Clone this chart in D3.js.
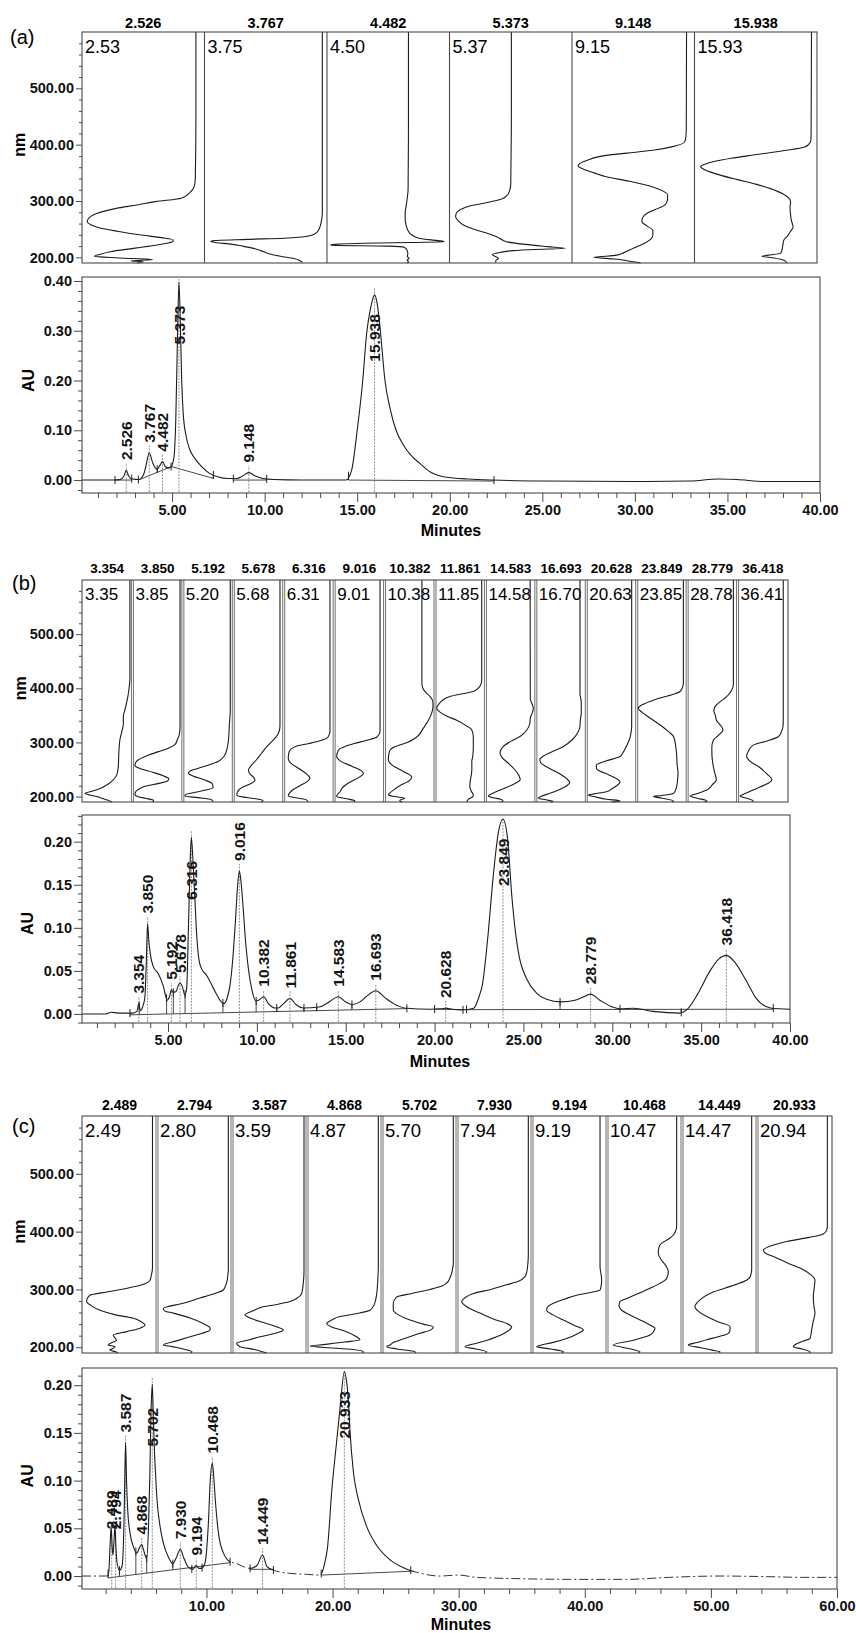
<!DOCTYPE html>
<html>
<head>
<meta charset="utf-8">
<script src="https://cdn.jsdelivr.net/npm/d3@7"></script>
<style>
body { margin: 0; background: #fff; }
svg { display: block; font-family: "Liberation Sans", Arial, sans-serif; }
</style>
</head>
<body>
<svg id="fig" width="856" height="1633"></svg>
<script>
// ---------- panel (a) ----------
var aHeads = ["2.526", "3.767", "4.482", "5.373", "9.148", "15.938"];
var aTags = ["2.53", "3.75", "4.50", "5.37", "9.15", "15.93"];
// spectra: [nm, relative absorbance position across the cell]
var aSpectra = [
  [[600,.93],[450,.93],[340,.925],[325,.915],[315,.88],[305,.81],[299,.6],[293,.45],[287,.28],[278,.12],[268,.05],[263,.043],[257,.08],[252,.147],[246,.3],[240,.47],[235,.65],[231,.745],[228,.74],[225,.69],[220,.55],[216,.42],[210,.23],[205,.14],[202,.1],[199,.3],[196,.58],[194,.4],[192,.5],[190,.45]],
  [[600,.962],[450,.962],[300,.962],[280,.962],[265,.955],[250,.935],[243,.91],[238,.85],[234,.65],[232,.35],[230,.08],[228,.05],[226,.1],[224,.2],[220,.31],[216,.4],[212,.46],[207,.52],[202,.62],[198,.73],[194,.78],[191,.8]],
  [[600,.665],[450,.665],[320,.662],[305,.655],[290,.645],[278,.638],[268,.638],[258,.645],[248,.66],[240,.69],[234,.75],[231,.85],[229,.94],[227.5,.955],[226.5,.7],[225,.3],[223,.03],[221.5,.04],[220,.5],[218,.63],[212,.655],[206,.66],[202,.655],[198,.67],[195,.655],[192,.665],[190,.655]],
  [[600,.505],[450,.505],[330,.5],[318,.49],[310,.47],[303,.42],[297,.3],[292,.18],[285,.09],[278,.055],[272,.05],[265,.07],[257,.117],[250,.2],[242,.32],[236,.39],[230,.44],[227,.48],[223,.62],[219,.8],[216,.943],[214,.7],[212,.52],[209,.42],[205,.35],[202,.37],[198,.4],[195,.38],[191,.376]],
  [[600,.935],[430,.933],[415,.93],[405,.92],[397,.83],[390,.66],[385,.45],[381,.28],[372,.12],[366,.06],[362,.05],[356,.1],[350,.18],[343,.28],[335,.47],[325,.66],[318,.74],[311,.78],[303,.78],[293,.76],[285,.68],[278,.61],[270,.575],[263,.57],[256,.61],[248,.66],[240,.66],[234,.65],[226,.6],[216,.5],[208,.42],[204,.365],[201,.22],[200,.175],[197,.35],[194,.45],[190,.56]],
  [[600,.955],[420,.952],[408,.95],[400,.93],[396,.9],[390,.75],[382,.49],[376,.3],[370,.158],[365,.08],[361,.05],[356,.08],[350,.15],[346,.21],[338,.35],[330,.5],[322,.62],[313,.72],[305,.77],[298,.785],[290,.78],[278,.783],[266,.79],[254,.805],[245,.78],[238,.76],[231,.73],[220,.72],[210,.71],[207,.7],[204,.6],[202,.55],[199,.65],[195,.73],[190,.755]]
];
// chromatogram: [minutes, AU]
var aTrace = [[0.14,0],[1.9,0],[2.2,0.001],[2.4,0.008],[2.526,0.02],[2.65,0.008],[2.85,0.002],[3.2,0.001],[3.45,0.01],[3.6,0.03],[3.767,0.055],[3.95,0.035],[4.1,0.024],[4.2,0.022],[4.35,0.03],[4.482,0.037],[4.62,0.028],[4.8,0.024],[4.95,0.027],[5.1,0.045],[5.2,0.12],[5.3,0.3],[5.373,0.398],[5.45,0.31],[5.52,0.2],[5.6,0.135],[5.75,0.09],[5.95,0.062],[6.2,0.045],[6.6,0.027],[7.0,0.014],[7.5,0.006],[8.0,0.003],[8.5,0.003],[8.8,0.008],[9.148,0.015],[9.5,0.008],[9.9,0.003],[10.5,0.001],[12,0],[14.4,0],[14.7,0.02],[15.0,0.1],[15.3,0.2],[15.5,0.29],[15.75,0.35],[15.938,0.372],[16.1,0.35],[16.25,0.3],[16.5,0.2],[16.8,0.14],[17.1,0.1],[17.5,0.07],[17.9,0.05],[18.4,0.033],[19.0,0.015],[19.5,0.008],[20.2,0.004],[21.0,0.002],[22.3,0],[25,-0.002],[30,-0.003],[33,-0.002],[34.5,0.002],[35.5,0.001],[37,-0.003],[40,-0.003]];
var aPeaks = [2.526, 3.767, 4.482, 5.373, 9.148, 15.938];
var aBase = [[1.92,0,2.82,0],[3.18,0,4.95,0.027],[4.98,0.027,7.23,0.0034],[8.31,0,10.11,0],[14.53,0,22.39,-0.002]];
var aCuts = [1.92, 2.82, 3.18, 4.2, 4.95, 7.23, 8.31, 10.11, 14.53, 22.39];

// ---------- panel (b) ----------
var bHeads = ["3.354","3.850","5.192","5.678","6.316","9.016","10.382","11.861","14.583","16.693","20.628","23.849","28.779","36.418"];
var bTags = ["3.35","3.85","5.20","5.68","6.31","9.01","10.38","11.85","14.58","16.70","20.63","23.85","28.78","36.41"];
var bSpectra = [
  [[600,.95],[420,.95],[397,.93],[380,.9],[360,.85],[348,.82],[335,.82],[320,.79],[304,.75],[280,.73],[255,.72],[240,.69],[231,.62],[222,.5],[215,.36],[210,.2],[206,.06],[203,.15],[200,.29],[196,.42],[192,.55],[190,.6]],
  [[600,.944],[330,.944],[315,.93],[305,.89],[297,.85],[289,.7],[283,.52],[276,.3],[268,.12],[262,.06],[257,.05],[252,.15],[245,.4],[238,.62],[233,.72],[229,.7],[224,.5],[219,.25],[215,.15],[210,.07],[204,.05],[200,.1],[197,.25],[193,.42],[190,.4]],
  [[600,.94],[360,.94],[330,.92],[310,.91],[290,.88],[275,.82],[265,.7],[258,.5],[252,.3],[247,.14],[243,.11],[238,.2],[231,.42],[224,.58],[217,.6],[212,.45],[208,.25],[204,.06],[201,.04],[198,.3],[195,.55],[191,.6]],
  [[600,.926],[330,.926],[318,.9],[305,.8],[292,.66],[280,.56],[268,.46],[258,.36],[249,.3],[242,.33],[236,.4],[230,.43],[224,.35],[218,.2],[214,.13],[208,.08],[203,.07],[199,.2],[196,.45],[193,.59],[190,.55]],
  [[600,.917],[320,.917],[310,.88],[303,.72],[298,.5],[293,.25],[288,.15],[280,.1],[270,.09],[262,.14],[252,.3],[242,.45],[234,.52],[228,.47],[220,.32],[213,.19],[206,.11],[201,.09],[197,.3],[194,.45],[190,.48]],
  [[600,.91],[320,.91],[310,.85],[304,.65],[298,.4],[292,.2],[288,.11],[280,.06],[274,.05],[266,.12],[256,.35],[247,.55],[242,.58],[236,.5],[226,.3],[216,.16],[209,.117],[203,.06],[200,.05],[196,.25],[192,.41],[190,.4]],
  [[600,.74],[410,.74],[400,.76],[392,.82],[385,.9],[374,.96],[366,.96],[356,.94],[341,.87],[325,.76],[310,.64],[300,.45],[292,.2],[286,.11],[276,.08],[268,.075],[258,.15],[246,.38],[236,.54],[230,.5],[220,.3],[212,.175],[206,.1],[203,.075],[200,.2],[197,.4],[193,.3],[190,.35]],
  [[600,.926],[415,.926],[405,.9],[398,.83],[394,.76],[390,.55],[385,.3],[378,.15],[370,.07],[363,.033],[356,.1],[348,.25],[341,.43],[332,.6],[323,.73],[310,.76],[292,.76],[275,.75],[265,.73],[250,.73],[240,.72],[230,.7],[218,.69],[210,.72],[203,.76],[200,.75],[195,.66],[190,.63]],
  [[600,.887],[380,.89],[370,.93],[363,.95],[355,.93],[345,.89],[335,.88],[323,.82],[312,.7],[302,.5],[292,.35],[285,.3],[280,.29],[272,.33],[262,.45],[250,.58],[238,.67],[231,.69],[226,.62],[218,.45],[212,.29],[206,.15],[201,.058],[198,.15],[195,.3],[192,.35],[190,.3]],
  [[600,.875],[390,.875],[375,.9],[355,.9],[340,.88],[330,.875],[318,.83],[305,.72],[292,.54],[282,.3],[275,.15],[268,.08],[262,.1],[255,.21],[245,.42],[234,.6],[226,.67],[218,.58],[212,.45],[206,.28],[201,.12],[197,.05],[194,.2],[191,.34],[190,.3]],
  [[600,.9],[330,.9],[320,.89],[310,.87],[300,.83],[290,.78],[280,.72],[274,.67],[266,.4],[258,.2],[252,.2],[249,.23],[240,.45],[232,.62],[227,.67],[220,.6],[214,.5],[209,.4],[205,.15],[203,.04],[199,.2],[195,.4],[192,.67],[190,.5]],
  [[600,.925],[410,.925],[400,.9],[394,.86],[388,.7],[383,.5],[378,.33],[370,.12],[363,.03],[356,.1],[348,.22],[341,.33],[330,.5],[320,.63],[311,.73],[295,.77],[280,.79],[260,.8],[243,.82],[230,.81],[218,.79],[210,.76],[206,.73],[202,.5],[200,.33],[197,.5],[192,.73],[190,.7]],
  [[600,.917],[410,.917],[400,.9],[392,.85],[384,.78],[375,.65],[366,.55],[358,.53],[350,.56],[341,.58],[332,.66],[323,.71],[314,.63],[304,.52],[292,.49],[280,.49],[268,.5],[255,.52],[243,.55],[231,.58],[222,.5],[212,.39],[206,.22],[201,.06],[197,.2],[192,.39],[190,.35]],
  [[600,.906],[340,.906],[329,.9],[320,.87],[311,.81],[303,.6],[295,.31],[285,.22],[274,.18],[265,.25],[255,.42],[242,.58],[231,.68],[224,.6],[218,.45],[212,.31],[206,.16],[201,.05],[197,.18],[192,.31],[190,.3]]
];
var bTrace = [[0.16,0],[1.5,0],[1.8,0.002],[2.2,0.001],[3.0,0.001],[3.25,0.003],[3.354,0.012],[3.45,0.004],[3.6,0.01],[3.7,0.02],[3.78,0.06],[3.85,0.105],[3.92,0.085],[4.0,0.07],[4.17,0.055],[4.45,0.047],[4.74,0.032],[4.95,0.016],[5.08,0.02],[5.192,0.028],[5.3,0.025],[5.45,0.026],[5.6,0.034],[5.678,0.036],[5.8,0.032],[5.95,0.022],[6.05,0.03],[6.15,0.1],[6.25,0.18],[6.316,0.205],[6.4,0.18],[6.52,0.13],[6.62,0.09],[6.75,0.062],[6.9,0.052],[7.17,0.045],[7.55,0.03],[8.0,0.014],[8.15,0.012],[8.35,0.02],[8.5,0.035],[8.65,0.065],[8.8,0.11],[8.92,0.15],[9.016,0.166],[9.1,0.155],[9.24,0.12],[9.36,0.085],[9.48,0.06],[9.7,0.03],[9.95,0.015],[10.1,0.016],[10.382,0.02],[10.65,0.012],[11.0,0.007],[11.2,0.007],[11.5,0.012],[11.861,0.018],[12.2,0.011],[12.6,0.007],[13.5,0.008],[14.0,0.013],[14.583,0.02],[15.0,0.014],[15.35,0.011],[15.8,0.014],[16.2,0.021],[16.693,0.027],[17.2,0.019],[17.69,0.012],[18.44,0.0066],[19.75,0.0055],[20.4,0.006],[20.628,0.0068],[21.0,0.0055],[21.6,0.0047],[22.2,0.0066],[22.5,0.02],[22.7,0.035],[23.0,0.09],[23.3,0.16],[23.6,0.212],[23.849,0.226],[24.1,0.205],[24.35,0.136],[24.55,0.095],[24.75,0.068],[25.2,0.04],[25.75,0.024],[26.3,0.017],[27.1,0.014],[27.9,0.016],[28.4,0.02],[28.779,0.023],[29.3,0.016],[29.96,0.0085],[30.43,0.006],[31.2,0.0066],[32.3,0.003],[33.8,0.001],[34.2,0.005],[34.8,0.023],[35.5,0.05],[36.0,0.064],[36.418,0.068],[36.9,0.06],[37.5,0.04],[38.1,0.018],[38.9,0.007],[40,0.0055]];
var bPeaks = [3.354, 3.850, 5.192, 5.678, 6.316, 9.016, 10.382, 11.861, 14.583, 16.693, 20.628, 23.849, 28.779, 36.418];
var bBase = [[2.86,-0.001,18.44,0.0062],[20.0,0.0055,21.6,0.005],[21.8,0.005,39.06,0.0055]];
var bCuts = [2.86, 3.38, 4.92, 5.3, 5.96, 8.09, 9.96, 11.12, 12.65, 13.37, 15.35, 18.44, 20.0, 21.6, 21.8, 27.06, 30.43, 33.88, 39.06];

// ---------- panel (c) ----------
var cHeads = ["2.489","2.794","3.587","4.868","5.702","7.930","9.194","10.468","14.449","20.933"];
var cTags = ["2.49","2.80","3.59","4.87","5.70","7.94","9.19","10.47","14.47","20.94"];
var cSpectra = [
  [[600,.94],[340,.94],[333,.937],[325,.925],[316,.907],[308,.8],[302,.6],[296,.35],[290,.107],[284,.07],[279,.062],[272,.12],[264,.24],[256,.45],[250,.684],[244,.79],[238,.84],[233,.773],[227,.6],[221,.417],[216,.44],[212,.46],[208,.4],[204,.35],[201,.44],[197,.4],[195,.37],[192,.45],[190,.48]],
  [[600,.951],[335,.951],[325,.945],[315,.935],[305,.91],[299,.884],[292,.75],[285,.573],[276,.35],[267,.084],[263,.1],[259,.218],[250,.45],[242,.6],[238,.662],[233,.71],[230,.707],[224,.6],[218,.44],[211,.26],[204,.084],[201,.2],[197,.35],[192,.467],[190,.45]],
  [[600,.96],[330,.96],[310,.95],[300,.94],[293,.929],[285,.87],[279,.773],[274,.6],[270,.417],[263,.28],[256,.173],[250,.25],[241,.462],[235,.6],[230,.684],[225,.6],[218,.373],[212,.2],[207,.062],[201,.107],[196,.3],[190,.462]],
  [[600,.951],[340,.951],[320,.945],[293,.93],[275,.9],[264,.84],[258,.65],[253,.44],[247,.33],[241,.262],[235,.33],[228,.5],[218,.662],[213,.707],[209,.5],[205,.25],[202,.04],[200,.2],[196,.618],[192,.751],[190,.74]],
  [[600,.951],[345,.951],[335,.94],[328,.929],[318,.9],[311,.862],[305,.78],[300,.64],[293,.4],[287,.196],[275,.15],[264,.151],[256,.22],[247,.373],[240,.55],[235,.684],[230,.65],[224,.507],[215,.3],[208,.15],[204,.107],[201,.062],[197,.2],[192,.44],[190,.45]],
  [[600,.951],[360,.951],[345,.945],[330,.93],[322,.907],[314,.82],[308,.662],[300,.45],[293,.218],[285,.1],[279,.062],[270,.13],[259,.307],[248,.5],[240,.68],[235,.729],[228,.68],[218,.529],[212,.4],[207,.262],[201,.107],[197,.25],[192,.396],[190,.38]],
  [[600,.907],[340,.907],[316,.929],[305,.92],[299,.907],[295,.8],[290,.596],[283,.43],[276,.284],[268,.2],[264,.196],[256,.28],[247,.418],[238,.56],[230,.684],[224,.62],[215,.462],[208,.27],[203,.1],[201,.062],[197,.25],[192,.418],[190,.4]],
  [[600,.929],[410,.929],[403,.92],[395,.89],[389,.84],[384,.78],[380,.729],[372,.69],[362,.684],[350,.73],[340,.79],[331,.818],[319,.796],[310,.7],[302,.573],[292,.4],[285,.28],[279,.173],[272,.16],[264,.196],[255,.32],[245,.48],[238,.58],[233,.64],[227,.62],[221,.573],[212,.35],[204,.084],[200,.2],[196,.35],[192,.44],[190,.42]],
  [[600,.929],[335,.929],[322,.91],[316,.86],[311,.773],[302,.57],[293,.373],[282,.24],[270,.173],[262,.22],[253,.329],[244,.48],[236,.64],[230,.64],[224,.618],[218,.48],[213,.329],[208,.2],[204,.084],[199,.25],[195,.4],[192,.507],[190,.5]],
  [[600,.938],[410,.938],[403,.93],[396,.884],[390,.7],[383,.396],[376,.2],[368,.084],[362,.12],[357,.218],[345,.42],[334,.618],[325,.72],[316,.773],[305,.765],[287,.751],[270,.76],[259,.773],[245,.75],[230,.729],[215,.707],[210,.6],[206,.529],[201,.484],[197,.6],[192,.707],[190,.7]]
];
var cTrace = [[0.13,0],[2.1,0],[2.25,0.004],[2.35,0.03],[2.44,0.052],[2.52,0.03],[2.58,0.022],[2.66,0.035],[2.75,0.053],[2.82,0.03],[2.9,0.015],[3.1,0.006],[3.3,0.01],[3.45,0.05],[3.52,0.1],[3.587,0.14],[3.66,0.1],[3.76,0.068],[3.94,0.045],[4.2,0.031],[4.47,0.024],[4.7,0.03],[4.868,0.033],[5.0,0.028],[5.13,0.022],[5.26,0.018],[5.4,0.05],[5.5,0.1],[5.6,0.17],[5.702,0.201],[5.78,0.17],[5.85,0.14],[5.95,0.11],[6.06,0.083],[6.32,0.052],[6.59,0.034],[6.98,0.02],[7.33,0.013],[7.6,0.019],[7.93,0.028],[8.17,0.02],[8.57,0.009],[8.91,0.007],[9.05,0.009],[9.194,0.011],[9.4,0.008],[9.6,0.008],[9.85,0.012],[10.0,0.025],[10.15,0.055],[10.3,0.1],[10.468,0.118],[10.6,0.1],[10.7,0.08],[10.95,0.045],[11.35,0.024],[11.87,0.015],[12.4,0.013],[12.93,0.0098],[13.46,0.008],[14.0,0.011],[14.449,0.022],[14.8,0.0098],[15.3,0.0063],[16.6,0.0028],[18,0.0017],[18.9,0.001],[19.14,0.003],[19.4,0.015],[19.6,0.03],[19.94,0.09],[20.33,0.142],[20.6,0.177],[20.933,0.214],[21.1,0.205],[21.25,0.185],[21.39,0.15],[21.66,0.108],[22.05,0.08],[22.7,0.052],[23.5,0.032],[24.56,0.017],[25.75,0.008],[26.94,0.003],[28.5,0],[30,0.001],[31.4,-0.0014],[34.9,-0.0028],[38.8,-0.0035],[43.3,-0.0035],[46.7,-0.0014],[50.7,0],[54.6,-0.0007],[57.3,-0.0014],[60,-0.0014]];
var cPeaks = [2.489, 2.794, 3.587, 4.868, 5.702, 7.930, 9.194, 10.468, 14.449, 20.933];
var cBase = [[2.2,-0.002,11.87,0.014],[13.46,0.007,15.31,0.007],[19.1,0.001,26.2,0.005]];
var cCuts = [2.2, 3.1, 4.4, 5.26, 7.33, 8.84, 9.65, 11.87, 13.46, 15.31, 19.1, 26.2];

var nmTicks = [200, 300, 400, 500];

var svg = d3.select('#fig');
var defs = svg.append('defs');
var ink = '#1c1c1c';
var frameInk = '#4a4a4a';

function valueAt(trace, t) {
    var i = d3.bisector(function (d) { return d[0]; }).left(trace, t);
    if (i <= 0) return trace[0][1];
    if (i >= trace.length) return trace[trace.length - 1][1];
    var p = trace[i - 1], q = trace[i];
    return p[1] + (q[1] - p[1]) * (t - p[0]) / (q[0] - p[0]);
}

function isMajor(v, step) {
    return Math.abs(v / step - Math.round(v / step)) < 1e-6;
}

function styleAxis(sel, size, bold) {
    sel.select('.domain').remove();
    sel.selectAll('line').attr('stroke', frameInk).attr('stroke-width', 1);
    sel.selectAll('text')
        .attr('fill', '#111')
        .style('font-family', '"Liberation Sans", Arial, sans-serif')
        .style('font-size', size + 'px')
        .style('font-weight', bold ? 'bold' : 'normal');
}

function spectraRow(p) {
    var s = p.spec;
    var g = svg.append('g');
    var n = p.heads.length;
    var w = (s.right - s.left) / n;
    var y = d3.scaleLinear().domain([190, 600]).range([s.bottom, s.top]);

    // left nm axis
    var minor = d3.range(200, 600, 20).filter(function (v) { return !isMajor(v, 100); });
    g.append('g').attr('transform', 'translate(' + s.left + ',0)')
        .call(d3.axisLeft(y).tickValues(minor).tickSize(3).tickFormat(''))
        .call(styleAxis, 12, true);
    g.append('g').attr('transform', 'translate(' + s.left + ',0)')
        .call(d3.axisLeft(y).tickValues(nmTicks).tickSize(6).tickPadding(2).tickFormat(d3.format('.2f')))
        .call(styleAxis, 14.5, true);

    g.append('text')
        .attr('transform', 'translate(' + s.nmX + ',' + y(400) + ')rotate(-90)')
        .attr('text-anchor', 'middle').attr('dy', '0.35em')
        .style('font-size', '16px').style('font-weight', 'bold')
        .text('nm');

    g.append('text').attr('x', p.letterX).attr('y', p.letterY)
        .style('font-size', '20px').text(p.letter);

    p.heads.forEach(function (h, i) {
        var x0 = s.left + i * w, x1 = x0 + w;
        var x = d3.scaleLinear().domain([0, 1]).range([x0, x1]);

        g.append('text').attr('x', (x0 + x1) / 2).attr('y', s.headY)
            .attr('text-anchor', 'middle')
            .style('font-size', s.headSize + 'px').style('font-weight', 'bold')
            .text(h);

        g.append('text').attr('x', x0 + 3).attr('y', s.tagY)
            .style('font-size', s.tagSize + 'px')
            .text(p.tags[i]);

        var line = d3.line()
            .x(function (d) { return x(d[1]); })
            .y(function (d) { return y(d[0]); })
            .curve(d3.curveMonotoneY);
        g.append('path').datum(p.spectra[i])
            .attr('d', line)
            .attr('fill', 'none').attr('stroke', ink).attr('stroke-width', 1.1);

        if (i > 0) {
            var offs = s.double ? [-1, 1] : [0];
            offs.forEach(function (o) {
                g.append('line').attr('x1', x0 + o).attr('x2', x0 + o)
                    .attr('y1', s.top).attr('y2', s.bottom)
                    .attr('stroke', frameInk).attr('stroke-width', s.double ? 0.8 : 1.1);
            });
        }
    });

    g.append('rect').attr('x', s.left).attr('y', s.top)
        .attr('width', s.right - s.left).attr('height', s.bottom - s.top)
        .attr('fill', 'none').attr('stroke', frameInk).attr('stroke-width', 1.1);
}

function clipFor(id, ranges, x, c) {
    var cp = defs.append('clipPath').attr('id', id);
    ranges.forEach(function (r) {
        cp.append('rect').attr('x', x(r[0])).attr('y', c.top - 5)
            .attr('width', x(r[1]) - x(r[0])).attr('height', c.bottom - c.top + 10);
    });
}

function chromatogram(p) {
    var c = p.chrom;
    var g = svg.append('g');
    var x = d3.scaleLinear().domain(c.xDom).range([c.left, c.right]);
    var y = d3.scaleLinear().domain(c.yDom).range([c.bottom, c.top]);

    var xMaj = d3.range(c.xMajor, c.xDom[1] + 1e-9, c.xMajor);
    var xMin = d3.range(Math.ceil(c.xDom[0] / c.xMinor) * c.xMinor, c.xDom[1], c.xMinor)
        .filter(function (v) { return !isMajor(v, c.xMajor); });
    var yMaj = d3.range(0, c.yDom[1] + 1e-9, c.yMajor);
    var yMin = d3.range(Math.ceil(c.yDom[0] / c.yMinor) * c.yMinor, c.yDom[1], c.yMinor)
        .filter(function (v) { return !isMajor(v, c.yMajor); });

    g.append('g').attr('transform', 'translate(0,' + c.bottom + ')')
        .call(d3.axisBottom(x).tickValues(xMin).tickSize(5).tickFormat(''))
        .call(styleAxis, 12, true);
    g.append('g').attr('transform', 'translate(0,' + c.bottom + ')')
        .call(d3.axisBottom(x).tickValues(xMaj).tickSize(9).tickPadding(3).tickFormat(d3.format('.2f')))
        .call(styleAxis, 14.5, true);
    g.append('g').attr('transform', 'translate(' + c.left + ',0)')
        .call(d3.axisLeft(y).tickValues(yMin).tickSize(4).tickFormat(''))
        .call(styleAxis, 12, true);
    g.append('g').attr('transform', 'translate(' + c.left + ',0)')
        .call(d3.axisLeft(y).tickValues(yMaj).tickSize(8).tickPadding(2).tickFormat(d3.format('.2f')))
        .call(styleAxis, 14.5, true);

    g.append('rect').attr('x', c.left).attr('y', c.top)
        .attr('width', c.right - c.left).attr('height', c.bottom - c.top)
        .attr('fill', 'none').attr('stroke', frameInk).attr('stroke-width', 1.1);

    g.append('text').attr('x', c.minX).attr('y', c.minY)
        .attr('text-anchor', 'middle')
        .style('font-size', '16px').style('font-weight', 'bold')
        .text('Minutes');
    g.append('text')
        .attr('transform', 'translate(' + c.auX + ',' + y(c.auAt) + ')rotate(-90)')
        .attr('text-anchor', 'middle').attr('dy', '0.35em')
        .style('font-size', '16px').style('font-weight', 'bold')
        .text('AU');

    // integration baselines
    p.base.forEach(function (b) {
        g.append('line')
            .attr('x1', x(b[0])).attr('y1', y(b[1]))
            .attr('x2', x(b[2])).attr('y2', y(b[3]))
            .attr('stroke', '#333').attr('stroke-width', 0.9);
    });

    // peak drop lines
    p.peaks.forEach(function (rt) {
        var top = y(valueAt(p.trace, rt)) - 7;
        g.append('line')
            .attr('x1', x(rt)).attr('x2', x(rt))
            .attr('y1', c.bottom - 1).attr('y2', Math.max(top, c.top + 2))
            .attr('stroke', '#777').attr('stroke-width', 0.8)
            .attr('stroke-dasharray', '2,1.2');
    });

    var line = d3.line()
        .x(function (d) { return x(d[0]); })
        .y(function (d) { return y(d[1]); })
        .curve(d3.curveMonotoneX);

    if (c.dash) {
        // flat stretches of the trace print broken, as in the scan
        var solid = [];
        var from = c.xDom[0];
        c.dash.forEach(function (r) { solid.push([from, r[0]]); from = r[1]; });
        solid.push([from, c.xDom[1]]);
        clipFor(c.id + '-solid', solid, x, c);
        clipFor(c.id + '-dash', c.dash, x, c);
        g.append('path').datum(p.trace).attr('d', line)
            .attr('clip-path', 'url(#' + c.id + '-solid)')
            .attr('fill', 'none').attr('stroke', ink).attr('stroke-width', 1.1);
        g.append('path').datum(p.trace).attr('d', line)
            .attr('clip-path', 'url(#' + c.id + '-dash)')
            .attr('stroke-dasharray', '9,3,2,3')
            .attr('fill', 'none').attr('stroke', '#333').attr('stroke-width', 1);
    } else {
        g.append('path').datum(p.trace)
            .attr('d', line)
            .attr('fill', 'none').attr('stroke', ink).attr('stroke-width', 1.1);
    }

    // cut marks between peaks
    p.cuts.forEach(function (t) {
        var ty = y(valueAt(p.trace, t));
        var seg = p.base.filter(function (b) { return t >= b[0] - 1e-6 && t <= b[2] + 1e-6; })[0];
        if (seg) {
            var bv = seg[1] + (seg[3] - seg[1]) * (t - seg[0]) / (seg[2] - seg[0]);
            g.append('line').attr('x1', x(t)).attr('x2', x(t))
                .attr('y1', ty).attr('y2', y(bv))
                .attr('stroke', '#333').attr('stroke-width', 0.9);
        }
        g.append('line').attr('x1', x(t)).attr('x2', x(t))
            .attr('y1', ty - 4).attr('y2', ty + 4)
            .attr('stroke', '#222').attr('stroke-width', 1);
    });

    // retention time labels
    p.peaks.forEach(function (rt) {
        var apex = y(valueAt(p.trace, rt));
        var label = g.append('text')
            .attr('text-anchor', 'start').attr('dy', '0.36em')
            .style('font-size', '15.5px').style('font-weight', 'bold')
            .attr('fill', '#151515')
            .text(d3.format('.3f')(rt));
        var len = label.node().getComputedTextLength();
        var bottom = apex - 10;
        if (bottom - len < c.top + 6) bottom = apex + 43 + len / 2;
        label.attr('transform', 'translate(' + x(rt) + ',' + bottom + ')rotate(-90)');
    });
}

var panels = [
    {
        letter: '(a)', letterX: 10, letterY: 44,
        heads: aHeads, tags: aTags, spectra: aSpectra,
        trace: aTrace, peaks: aPeaks, base: aBase, cuts: aCuts,
        spec: { left: 82, right: 817, top: 32, bottom: 263, headY: 28, headSize: 14.5, tagY: 53, tagSize: 18, double: false, nmX: 19 },
        chrom: { id: 'ca', left: 82, right: 820, top: 277, bottom: 493, xDom: [0.135, 40], yDom: [-0.026, 0.408],
                 xMajor: 5, xMinor: 1, yMajor: 0.1, yMinor: 0.02, minX: 451, minY: 536, auX: 28, auAt: 0.2 }
    },
    {
        letter: '(b)', letterX: 12, letterY: 590,
        heads: bHeads, tags: bTags, spectra: bSpectra,
        trace: bTrace, peaks: bPeaks, base: bBase, cuts: bCuts,
        spec: { left: 82, right: 788, top: 580, bottom: 802, headY: 573, headSize: 13.5, tagY: 600, tagSize: 17, double: true, nmX: 20 },
        chrom: { id: 'cb', left: 82, right: 790, top: 815, bottom: 1023, xDom: [0.16, 40], yDom: [-0.0105, 0.231],
                 xMajor: 5, xMinor: 1, yMajor: 0.05, yMinor: 0.01, minX: 440, minY: 1067, auX: 27, auAt: 0.105 }
    },
    {
        letter: '(c)', letterX: 12, letterY: 1133,
        heads: cHeads, tags: cTags, spectra: cSpectra,
        trace: cTrace, peaks: cPeaks, base: cBase, cuts: cCuts,
        spec: { left: 82, right: 832, top: 1116, bottom: 1353, headY: 1110, headSize: 14, tagY: 1137, tagSize: 18.5, double: true, nmX: 19 },
        chrom: { id: 'cc', left: 82, right: 837, top: 1368, bottom: 1589, xDom: [0.13, 60], yDom: [-0.0136, 0.218],
                 xMajor: 10, xMinor: 2, yMajor: 0.05, yMinor: 0.01, minX: 461, minY: 1630, auX: 27, auAt: 0.105,
                 dash: [[0.13, 2.2], [11.9, 13.4], [15.4, 19.1], [26.5, 60]] }
    }
];

panels.forEach(function (p) {
    spectraRow(p);
    chromatogram(p);
});
</script>
</body>
</html>
